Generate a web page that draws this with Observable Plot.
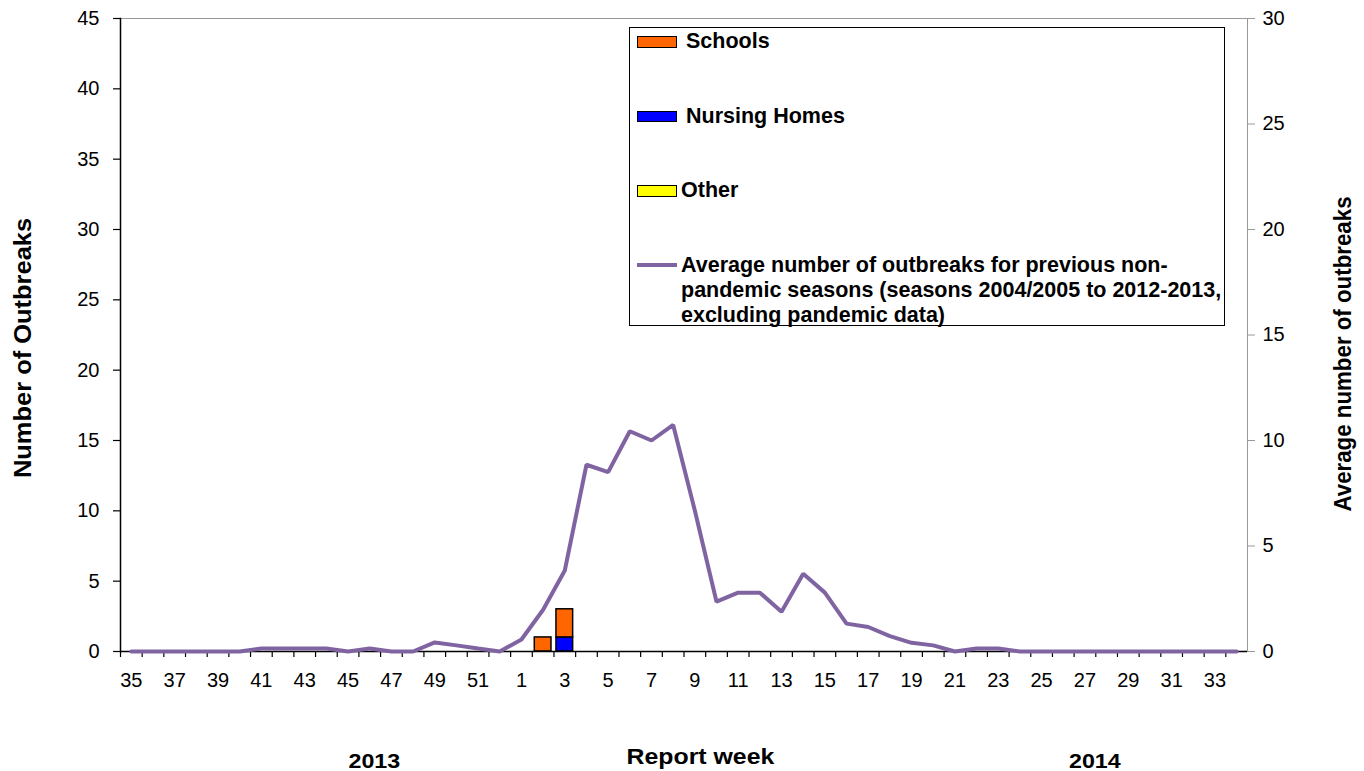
<!DOCTYPE html>
<html>
<head>
<meta charset="utf-8">
<script src="https://cdn.jsdelivr.net/npm/d3@7"></script>
<script src="https://cdn.jsdelivr.net/npm/@observablehq/plot@0.6"></script>
<style>
  body { margin: 0; background: #fff; font-family: "Liberation Sans", Arial, sans-serif; }
  #wrap { position: relative; width: 1364px; height: 771px; overflow: hidden; background: #fff; }
  #wrap svg { position: absolute; left: 0; top: 0; }
  .lbl { position: absolute; left: 0; top: 0; white-space: nowrap; font-weight: bold; color: #000; line-height: 1; transform-origin: 50% 50%; }
  .leg { position: absolute; left: 629px; top: 27px; width: 596px; height: 299px; border: 1px solid #000; box-sizing: border-box; background: #fff; }
  .sw { position: absolute; box-sizing: border-box; }
  .lt { position: absolute; white-space: nowrap; font-weight: bold; font-size: 21.5px; line-height: 25px; color: #000; }
</style>
</head>
<body>
<div id="wrap"></div>
<script>
// ---------- data ----------
const weekNums = [35,36,37,38,39,40,41,42,43,44,45,46,47,48,49,50,51,52,
                  1,2,3,4,5,6,7,8,9,10,11,12,13,14,15,16,17,18,19,20,21,22,23,24,25,26,27,28,29,30,31,32,33,34];
const tickWeeks = [35,37,39,41,43,45,47,49,51,1,3,5,7,9,11,13,15,17,19,21,23,25,27,29,31,33];
const types = ["Nursing Homes", "Schools", "Other"];
const typeColors = ["#0000FF", "#FF6600", "#FFFF00"];
const schools      = [0,0,0,0,0,0,0,0,0,0,0,0,0,0,0,0,0,0, 0,1,2,0,0,0,0,0,0,0,0,0,0,0,0,0,0,0,0,0,0,0,0,0,0,0,0,0,0,0,0,0,0,0];
const nursingHomes = [0,0,0,0,0,0,0,0,0,0,0,0,0,0,0,0,0,0, 0,0,1,0,0,0,0,0,0,0,0,0,0,0,0,0,0,0,0,0,0,0,0,0,0,0,0,0,0,0,0,0,0,0];
const other        = [0,0,0,0,0,0,0,0,0,0,0,0,0,0,0,0,0,0, 0,0,0,0,0,0,0,0,0,0,0,0,0,0,0,0,0,0,0,0,0,0,0,0,0,0,0,0,0,0,0,0,0,0];
const avgPrevious  = [0,0,0,0,0,0,0.14,0.14,0.14,0.14,0,0.14,0,0,0.43,0.29,0.14,0,
                      0.57,1.98,3.84,8.85,8.5,10.44,10.0,10.74,6.68,2.36,2.79,2.79,1.88,3.68,2.79,1.32,1.16,0.73,0.41,0.29,0,0.14,0.14,0,
                      0,0,0,0,0,0,0,0,0,0];
const leftTicks = [0,5,10,15,20,25,30,35,40,45];
const rightTicks = [0,5,10,15,20,25,30];
const avgLabelLines = ["Average number of outbreaks for previous non-",
                       "pandemic seasons (seasons 2004/2005 to 2012-2013,",
                       "excluding pandemic data)"];
const lineColor = "#8064A2";

// ---------- layout ----------
const W = 1364, H = 771, mL = 120, mR = 117, mT = 18, mB = 120;
const step = (W - mL - mR) / weekNums.length;
const font = '"Liberation Sans", Arial, sans-serif';

const byType = {"Schools": schools, "Nursing Homes": nursingHomes, "Other": other};
const rows = [];
weekNums.forEach((w, i) => {
  types.forEach(t => { if (byType[t][i] > 0) rows.push({week: w, type: t, n: byType[t][i]}); });
});
const lineRows = weekNums.map((w, i) => ({week: w, avg: avgPrevious[i]}));

const xOpts = {type: "band", domain: weekNums, paddingInner: 0.23, paddingOuter: 0.115};

const barsPlot = Plot.plot({
  width: W, height: H, marginLeft: mL, marginRight: mR, marginTop: mT, marginBottom: mB,
  style: {fontFamily: font, color: "#000", background: "#fff", overflow: "visible"},
  x: xOpts,
  y: {domain: [0, 45]},
  color: {domain: types, range: typeColors},
  marks: [
    Plot.frame({stroke: "#999", strokeWidth: 1}),
    Plot.barY(rows, {x: "week", y: "n", fill: "type", stroke: "#000", strokeWidth: 1.5}),
    Plot.axisY({anchor: "left", ticks: leftTicks, tickSize: 7, tickPadding: 14, fontSize: 20, label: null, stroke: "#000", strokeWidth: 1.2}),
    Plot.frame({anchor: "left", stroke: "#000", strokeWidth: 1.5}),
    Plot.axisX({ticks: weekNums, tickSize: 6, dx: -step / 2, fill: "none", label: null, stroke: "#000", strokeWidth: 1.2}),
    Plot.axisX({ticks: tickWeeks, tickSize: 0, tickPadding: 21, fontSize: 20, label: null}),
    Plot.ruleY([0], {stroke: "#000", strokeWidth: 1.5})
  ]
});

const linePlot = Plot.plot({
  width: W, height: H, marginLeft: mL, marginRight: mR, marginTop: mT, marginBottom: mB,
  style: {fontFamily: font, color: "#000", background: "transparent", overflow: "visible"},
  x: {...xOpts, axis: null},
  y: {domain: [0, 30]},
  marks: [
    Plot.axisY({anchor: "right", ticks: rightTicks, tickSize: 7, tickPadding: 8, fontSize: 20, label: null, stroke: "#999", fill: "#000"}),
    Plot.line(lineRows, {x: "week", y: "avg", stroke: lineColor, strokeWidth: 4, strokeLinejoin: "miter"})
  ]
});

const wrap = document.getElementById("wrap");
wrap.appendChild(barsPlot);
wrap.appendChild(linePlot);

// ---------- titles ----------
function title(txt, size, cx, cy, targetLen, rot) {
  const d = document.createElement("div");
  d.className = "lbl";
  d.style.fontSize = size + "px";
  d.style.fontFamily = font;
  d.textContent = txt;
  wrap.appendChild(d);
  const w = d.offsetWidth, h = d.offsetHeight;
  const s = targetLen ? targetLen / w : 1;
  d.style.transform = `translate(${cx - w / 2}px, ${cy - h / 2}px) rotate(${rot || 0}deg) scaleX(${s})`;
}
const bc = (b, size) => b - 0.3465 * size;
title("Report week", 22, 700.5, bc(764.5, 22), 148, 0);
title("2013", 21, 374.5, bc(767.5, 21), 52, 0);
title("2014", 21, 1095, bc(767.5, 21), 52, 0);
title("Number  of  Outbreaks", 23, 31 - 0.3465 * 23, 348, 260, -90);
title("Average number  of outbreaks", 23, 1351 - 0.3465 * 23, 354, 315, -90);

// ---------- legend ----------
const leg = document.createElement("div");
leg.className = "leg";
wrap.appendChild(leg);
const L0 = 629, T0 = 27;
const legRows = [
  {key: "Schools", swTop: 35, textLeft: 685, base: 48},
  {key: "Nursing Homes", swTop: 109.5, textLeft: 685, base: 122.5},
  {key: "Other", swTop: 184, textLeft: 680, base: 197}
];
legRows.forEach(r => {
  const sw = document.createElement("div");
  sw.className = "sw";
  Object.assign(sw.style, {left: (636 - L0) + "px", top: (r.swTop - T0) + "px", width: "40px", height: "11.5px",
    background: typeColors[types.indexOf(r.key)], border: "1.5px solid #000"});
  leg.appendChild(sw);
  const t = document.createElement("div");
  t.className = "lt";
  t.style.fontFamily = font;
  t.textContent = r.key;
  Object.assign(t.style, {left: (r.textLeft - L0) + "px", top: (r.base - 19.75 - T0) + "px"});
  leg.appendChild(t);
});
const lsw = document.createElement("div");
lsw.className = "sw";
Object.assign(lsw.style, {left: (636 - L0) + "px", top: (262 - T0) + "px", width: "40px", height: "4px", background: lineColor});
leg.appendChild(lsw);
avgLabelLines.forEach((s, i) => {
  const t = document.createElement("div");
  t.className = "lt";
  t.style.fontFamily = font;
  t.textContent = s;
  Object.assign(t.style, {left: (680 - L0) + "px", top: (271.5 + 25 * i - 19.75 - T0) + "px"});
  leg.appendChild(t);
});
</script>
</body>
</html>
